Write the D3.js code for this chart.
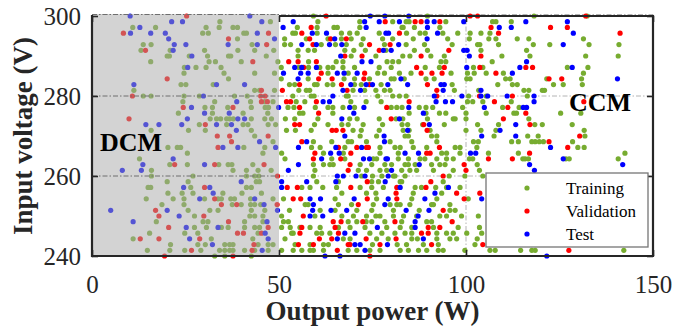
<!DOCTYPE html>
<html>
<head>
<meta charset="utf-8">
<script src="https://cdn.jsdelivr.net/npm/d3@7/dist/d3.min.js"></script>
<style>
  body { margin: 0; background: #fff; }
  text { font-family: "Liberation Serif", "Times New Roman", serif; }
</style>
</head>
<body>
<svg id="chart" width="673" height="330"></svg>
<script>
// Axis ticks
const xTicks = [0, 50, 100, 150];
const yTicks = [240, 260, 280, 300];
const gridX = [100];
const gridY = [260, 280];
const dcmLimit = 50;
const seriesNames = ["Training", "Validation", "Test"];
const seriesColors = ["#77ac30", "#ff0000", "#0000ff"];

// Each row: [input voltage (V), output power (W) of every sample at that voltage]
const trainingRows = [
  [300, 59.2, 89.7, 118.2, 132.4],
  [298.57, 34.2, 47.7, 60.4, 71.6, 80.4, 84.0, 84.8, 94.6, 107.1, 108.0, 112.1],
  [297.14, 10.9, 17.0, 30.5, 34.0, 37.7, 38.9, 54.9, 60.2, 64.7, 65.6, 71.6, 82.9, 83.2, 86.2, 93.0],
  [295.71, 29.6, 31.1, 40.6, 41.3, 53.7, 54.4, 60.2, 66.7, 68.9, 70.9, 76.8, 84.1, 87.7, 89.1, 93.8, 97.8, 101.1, 104.0, 106.4],
  [294.29, 38.9, 51.5, 57.3, 63.1, 66.7, 69.3, 72.5, 77.7, 80.4, 85.9, 95.1, 100.9, 106.1, 108.0, 113.7, 116.8, 131.4],
  [292.86, 13.7, 15.8, 42.8, 51.5, 53.1, 61.3, 65.1, 68.0, 72.0, 78.2, 84.0, 88.9, 96.3, 103.1, 103.7, 108.7, 118.0, 122.4, 132.9, 140.9],
  [291.43, 13.1, 20.9, 30.1, 39.0, 43.5, 48.6, 55.1, 57.8, 59.5, 67.6, 70.0, 73.1, 78.6, 86.2, 89.7, 104.0, 116.2],
  [290, 20.1, 20.7, 26.0, 30.9, 36.5, 37.1, 46.6, 55.1, 69.3, 75.9, 83.1, 85.0, 90.6, 94.2, 109.6, 117.1, 132.0, 140.7],
  [288.57, 15.7, 31.3, 33.0, 39.9, 49.7, 57.9, 65.3, 67.1, 78.9, 80.4, 82.0, 93.3, 94.6, 107.0],
  [287.14, 24.7, 27.8, 30.5, 34.5, 50.6, 55.3, 57.9, 60.9, 63.1, 64.4, 67.1, 70.2, 76.8, 80.0, 89.1, 92.9, 102.0, 104.5, 127.1, 132.6],
  [285.71, 24.6, 35.3, 43.5, 48.8, 63.1, 68.5, 76.4, 78.2, 82.2, 85.3, 96.0, 100.4, 102.2, 105.4, 110.0, 131.4],
  [284.29, 36.5, 50.6, 57.8, 67.4, 70.2, 74.2, 80.0, 80.8, 83.5, 89.3, 91.5, 100.2, 101.1, 110.6, 111.8, 121.6, 130.9],
  [282.86, 23.8, 25.1, 32.4, 52.8, 54.2, 59.5, 60.2, 62.9, 64.4, 70.2, 72.0, 77.3, 96.3, 108.5, 112.4, 113.7, 123.4, 126.0, 131.1],
  [281.43, 11.2, 43.5, 44.8, 48.8, 55.3, 57.3, 58.2, 69.8, 72.9, 75.9, 78.2, 79.7, 96.9, 103.4, 115.5, 116.8, 120.4, 121.0],
  [280, 13.7, 15.8, 24.6, 28.7, 38.1, 41.5, 53.7, 58.6, 59.4, 68.0, 68.5, 76.4, 80.4, 82.2, 84.0, 100.7, 105.4, 116.4],
  [278.57, 24.3, 32.8, 42.4, 46.2, 48.4, 54.6, 56.9, 69.2, 73.3, 77.3, 100.4, 101.8, 104.5, 112.1],
  [277.14, 30.2, 32.2, 36.3, 42.6, 46.3, 47.2, 52.4, 54.0, 59.7, 63.1, 64.4, 67.1, 70.2, 80.0, 81.5, 82.9, 87.5, 89.3, 91.1, 99.1, 109.8, 114.2],
  [275.71, 23.1, 32.2, 40.4, 47.0, 55.5, 56.4, 64.4, 84.8, 89.3, 92.9, 94.6, 100.0, 105.4, 112.8, 113.5, 125.3, 130.7],
  [274.29, 31.6, 33.3, 34.4, 36.0, 36.8, 37.8, 42.6, 46.2, 48.0, 51.7, 54.2, 60.4, 68.9, 70.9, 76.8, 81.3, 83.1, 89.7, 96.6, 97.1, 100.0, 116.8],
  [272.86, 28.7, 36.0, 40.4, 41.7, 47.1, 49.1, 59.5, 63.1, 66.8, 68.5, 72.5, 77.7, 82.9, 84.4, 88.4, 94.2, 103.1, 108.7, 118.4, 120.4, 128.4],
  [271.43, 15.8, 25.8, 30.3, 42.6, 52.0, 54.4, 58.6, 69.8, 72.0, 76.8, 83.2, 84.8, 90.4, 100.0, 104.0, 108.0, 131.6],
  [270, 43.5, 71.7, 76.1, 83.7, 84.6, 90.8, 92.2, 107.5, 116.5, 119.3, 131.8],
  [268.57, 48.4, 59.2, 64.1, 68.5, 69.4, 73.4, 79.7, 85.5, 92.2, 102.0, 103.3, 112.2, 114.0, 117.6, 118.5, 119.6, 120.7, 128.5],
  [267.14, 20.3, 22.8, 23.7, 40.6, 46.2, 58.7, 61.0, 67.6, 77.0, 81.0, 82.4, 85.9, 89.5, 97.1, 98.4, 102.9, 129.9, 131.6],
  [265.71, 25.5, 45.7, 50.7, 61.9, 67.2, 77.0, 81.9, 93.5, 94.8, 98.4, 106.0, 114.0, 142.5],
  [264.29, 12.7, 51.6, 64.1, 67.6, 75.2, 76.1, 81.9, 84.6, 87.7, 89.0, 92.2, 94.8, 96.6, 100.9, 101.8, 115.2, 115.8, 116.7, 126.7, 127.6, 140.7],
  [262.86, 20.8, 25.5, 33.9, 36.4, 37.4, 43.0, 59.2, 61.9, 63.6, 64.5, 71.7, 74.8, 78.3, 80.1, 83.7, 84.6, 86.4, 90.8, 93.0, 94.4, 103.0],
  [261.43, 15.9, 37.7, 41.3, 44.4, 47.9, 59.6, 71.2, 73.4, 77.0, 78.8, 82.8, 85.0, 86.8, 91.3, 96.6, 103.6],
  [260, 15.9, 27.0, 41.3, 43.5, 44.6, 59.2, 72.1, 75.0, 77.5, 80.6, 81.0, 83.7, 95.5, 99.7, 104.5],
  [258.57, 20.1, 25.7, 43.9, 44.8, 60.1, 65.9, 74.8, 76.6, 82.4, 82.8, 93.9],
  [257.14, 15.0, 15.7, 26.4, 41.3, 42.6, 56.1, 58.3, 61.7, 65.4, 71.7, 74.8, 77.9, 86.4, 88.1, 91.9, 94.8, 98.4],
  [255.71, 20.3, 24.1, 27.0, 35.0, 40.1, 45.3, 66.8, 73.4, 75.9, 85.9, 93.5],
  [254.29, 14.5, 21.7, 24.6, 30.1, 33.7, 34.6, 37.1, 38.1, 42.4, 48.4, 51.2, 65.0, 76.1, 85.5, 92.2, 100.6],
  [252.86, 18.7, 24.6, 37.5, 39.9, 42.4, 43.5, 45.1, 57.0, 57.8, 65.9, 69.4, 75.2, 79.7, 81.5, 82.4, 85.0, 90.8, 91.3, 95.7],
  [251.43, 25.7, 31.5, 33.7, 42.6, 46.2, 52.8, 61.0, 65.0, 70.8, 74.8, 80.6, 87.5, 95.7, 97.1],
  [250, 27.4, 42.2, 43.5, 45.7, 50.7, 59.6, 66.8, 69.9, 73.4, 75.9, 77.0, 80.6, 83.3, 86.8, 93.0, 94.8, 98.8, 103.3],
  [248.57, 17.2, 29.7, 31.0, 40.8, 45.7, 51.2, 52.5, 68.5, 70.8, 73.3, 74.8, 78.3, 82.8, 89.5, 90.8],
  [247.14, 27.4, 30.6, 34.6, 36.4, 40.8, 43.5, 44.8, 50.7, 53.0, 55.6, 58.3, 61.0, 65.9, 69.0, 73.0, 78.8, 82.4, 85.5, 91.3, 97.9, 103.6],
  [245.71, 15.4, 24.8, 28.3, 44.4, 53.4, 53.8, 60.1, 61.4, 63.6, 74.3, 77.5, 81.0, 83.7, 85.5, 92.2, 94.8, 96.6, 100.2, 104.2],
  [244.29, 11.0, 31.9, 43.0, 51.6, 67.2, 69.0, 76.1, 79.2, 85.5, 87.0, 92.2, 95.7, 97.5, 103.0],
  [242.86, 21.0, 28.3, 30.3, 35.5, 36.8, 37.7, 44.4, 47.1, 48.4, 54.3, 58.3, 61.9, 63.2, 75.0, 81.6, 84.1, 88.6, 92.6, 102.4],
  [241.43, 14.8, 20.8, 24.8, 29.1, 34.1, 35.5, 36.8, 37.7, 40.8, 43.5, 47.1, 50.7, 53.8, 56.1, 58.3, 59.2, 61.9, 68.5, 70.8, 74.3, 77.0, 82.4, 84.6, 87.3, 89.5, 92.6, 93.9, 99.7, 106.4, 107.8, 114.6, 117.6, 118.5, 142.2],
  [240, 32.8, 35.5, 42.6]
];

const validationRows = [
  [300, 25.3, 62.6, 101.1, 103.1, 132.0],
  [298.57, 78.4, 86.4, 88.0, 93.0],
  [297.14, 58.6, 106.7, 122.6, 127.1],
  [295.71, 8.4, 47.2, 56.1, 82.2, 108.7, 141.2],
  [294.29, 36.5, 58.2, 63.8, 68.0],
  [292.86, 46.7, 59.1, 74.2, 79.7],
  [291.43, 14.3, 76.8, 95.4],
  [290, 67.6, 72.2, 88.0, 104.0],
  [288.57, 43.0, 52.6, 55.1, 60.0],
  [287.14, 56.6, 86.8, 94.2, 103.7, 116.0, 117.8],
  [285.71, 61.3, 72.9, 88.0, 90.9, 93.6, 108.0],
  [284.29, 20.1, 60.6, 64.2, 72.7, 122.2, 125.6],
  [282.86, 55.5, 66.7, 74.2, 89.7],
  [281.43, 45.3, 50.9, 68.2, 92.2],
  [280, 10.8, 45.1, 46.3, 92.2, 103.6, 112.4],
  [278.57, 45.3, 46.9, 52.0, 53.1, 60.0, 84.8, 107.6, 131.5],
  [277.14, 24.4, 37.7, 55.5, 78.8, 111.2],
  [275.71, 60.6, 116.0],
  [274.29, 9.9, 80.0, 110.0],
  [272.86, 30.3, 54.2, 55.5, 88.7, 117.1],
  [271.43, 64.2, 65.3, 67.1, 89.6],
  [270, 33.5, 36.8, 47.1, 130.4],
  [268.57, 37.3, 56.1, 122.2],
  [267.14, 33.7, 65.9, 70.8, 73.4, 73.9, 92.9, 127.2],
  [265.71, 59.6, 69.2, 89.5, 90.4, 117.0],
  [264.29, 59.2, 66.5, 106.0, 112.4],
  [262.86, 22.1, 32.8, 46.0, 69.0, 99.5],
  [261.43, 68.5, 100.0],
  [260, 49.6, 93.9],
  [258.57, 73.6, 90.6],
  [257.14, 30.1, 52.2, 54.9, 69.2, 81.5, 89.3],
  [255.71, 81.3, 97.5, 103.7],
  [254.29, 32.8, 53.8, 55.8, 73.6, 81.5, 99.5],
  [252.86, 34.6, 38.7, 49.5, 71.2],
  [251.43, 17.0, 93.9],
  [250, 17.9, 29.9, 56.5],
  [248.57, 36.5, 64.5, 66.6, 72.4, 81.0, 96.3],
  [247.14, 20.5, 47.1, 56.1, 65.0, 89.9, 93.0],
  [245.71, 38.9, 40.5, 45.3, 55.6, 65.9, 88.1, 89.9],
  [244.29, 12.9, 17.9, 28.8, 60.8, 64.1, 73.3, 81.3],
  [242.86, 43.3, 55.2, 59.2, 68.5, 69.0, 77.0, 90.8, 104.5],
  [241.43, 26.6, 42.8, 65.6, 127.5],
  [240, 19.4, 37.7, 74.3]
];

const testRows = [
  [300, 10.2, 42.2, 74.4, 78.3, 84.7],
  [298.57, 21.3, 24.2, 45.4, 53.8, 72.9, 76.8, 82.2, 89.6, 91.5, 99.4, 116.0, 127.1],
  [297.14, 12.8, 51.1, 73.3, 89.7, 108.9, 112.1],
  [295.71, 10.3, 15.7, 19.6, 44.2, 58.9, 62.7, 78.6, 79.3, 92.4, 128.7],
  [294.29, 20.5, 48.8, 64.9, 89.6],
  [292.86, 22.0, 25.1, 36.4, 44.2, 56.1, 60.0, 63.5, 66.8, 82.0, 126.0],
  [291.43, 21.7, 77.9, 80.0, 99.4, 100.3],
  [290, 26.7, 66.5, 100.9],
  [288.57, 72.2, 74.6, 116.2],
  [287.14, 25.6, 54.2, 56.1, 60.0, 100.2, 114.4, 128.4],
  [285.71, 51.2, 55.8, 57.8, 65.6, 67.4, 70.9, 112.4],
  [284.29, 55.1, 82.6, 140.5],
  [282.86, 11.2, 33.3, 40.8, 69.2, 73.3, 75.0, 79.1, 84.4, 93.3, 94.2],
  [281.43, 67.1, 71.8, 93.9, 104.0],
  [280, 29.8, 64.4, 91.5, 98.9, 104.0, 105.8, 111.0, 118.2],
  [278.57, 38.7, 61.8, 63.5, 92.0, 94.5, 96.4, 118.2],
  [277.14, 26.6, 49.9, 68.9, 72.7, 84.7, 104.9, 115.3, 116.2],
  [275.71, 30.1, 36.7, 70.0, 88.6],
  [274.29, 25.5, 39.0, 40.8, 66.8, 82.2],
  [272.86, 14.4, 17.9, 24.0, 33.3, 37.3, 90.2, 113.3],
  [271.43, 38.6, 84.4, 109.1],
  [270, 67.6, 78.1, 104.2, 113.3],
  [268.57, 44.8, 57.4, 78.2],
  [267.14, 35.0, 39.0, 49.1, 55.2, 65.2, 72.1, 122.6],
  [265.71, 63.8, 66.1, 83.7, 87.3, 101.2, 102.6],
  [264.29, 21.7, 61.4, 72.6, 74.2, 78.6, 79.0, 126.0],
  [262.86, 13.6, 30.1, 55.2, 87.5, 117.0, 141.9],
  [261.43, 8.1, 13.2, 52.5, 80.1, 118.3],
  [260, 65.6, 67.2, 70.6, 73.0, 79.2],
  [258.57, 39.9, 50.7, 57.4, 65.2, 78.4],
  [257.14, 24.5, 31.5, 50.7, 82.4, 95.3],
  [255.71, 32.4, 91.7],
  [254.29, 28.8, 43.5, 58.3, 61.1, 70.1, 79.2, 89.0, 104.2],
  [252.86, 46.0, 59.2, 78.3],
  [251.43, 5.0, 20.1, 49.6, 59.0, 63.9, 68.1, 84.0, 90.1],
  [250, 23.3, 58.3, 61.7, 87.2],
  [248.57, 11.0, 46.8, 86.4],
  [247.14, 25.2, 33.7, 76.3, 86.4],
  [245.71, 46.3, 67.6, 70.3],
  [244.29, 26.1, 47.1, 65.6, 88.6],
  [242.86, 32.2, 70.3, 71.7, 79.0],
  [241.43, 45.5, 73.0],
  [240, 62.3, 66.3, 121.6]
];

const toPoints = rows => rows.flatMap(([v, ...ps]) => ps.map(p => ({ p, v })));
const series = [trainingRows, validationRows, testRows].map((rows, i) => ({
  name: seriesNames[i], color: seriesColors[i], points: toPoints(rows)
}));

const svg = d3.select("#chart");
const x = d3.scaleLinear().domain([0, 150]).range([92, 653]);
const y = d3.scaleLinear().domain([240, 300]).range([256, 16]);
const ink = "#262626";
const dash = "5,2,1.5,2";

// light dash-dot grid
const grid = svg.append("g").attr("fill", "none").attr("stroke", "#b4b4b4").attr("stroke-width", 1).attr("stroke-dasharray", dash);
grid.selectAll("line.h").data(gridY).join("line")
  .attr("x1", x(dcmLimit)).attr("x2", x(150)).attr("y1", d => y(d)).attr("y2", d => y(d));
grid.selectAll("line.v").data(gridX).join("line")
  .attr("x1", d => x(d)).attr("x2", d => x(d)).attr("y1", y(300)).attr("y2", y(240));
grid.append("line").attr("x1", x(0)).attr("x2", x(150)).attr("y1", y(300) - 1.5).attr("y2", y(300) - 1.5);

// scatter points
const marks = svg.append("g");
series.forEach(s => {
  marks.append("g").attr("fill", s.color)
    .selectAll("circle").data(s.points).join("circle")
    .attr("cx", d => x(d.p)).attr("cy", d => y(d.v)).attr("r", 2.6);
});

// DCM region shading
svg.append("rect")
  .attr("x", x(0)).attr("y", y(300) - 2)
  .attr("width", x(dcmLimit) - x(0)).attr("height", y(240) - y(300) + 2)
  .attr("fill", "rgb(168,168,168)").attr("fill-opacity", 0.5);

// grid inside the shaded region
const gridDark = svg.append("g").attr("fill", "none").attr("stroke", "#6e6e6e").attr("stroke-width", 1).attr("stroke-dasharray", dash);
gridDark.selectAll("line").data(gridY.concat([300])).join("line")
  .attr("x1", x(0)).attr("x2", x(dcmLimit))
  .attr("y1", d => y(d) - (d === 300 ? 1.5 : 0)).attr("y2", d => y(d) - (d === 300 ? 1.5 : 0));

// axes box
const box = svg.append("g").attr("stroke", ink).attr("stroke-width", 2.2).attr("fill", "none");
box.append("line").attr("x1", x(0)).attr("x2", x(0)).attr("y1", y(300) - 1).attr("y2", y(240) + 1.1);
box.append("line").attr("x1", x(0)).attr("x2", x(150) + 1.1).attr("y1", y(240)).attr("y2", y(240));
box.append("line").attr("x1", x(150)).attr("x2", x(150)).attr("y1", y(300) - 1.1).attr("y2", y(240));
box.append("line").attr("x1", x(dcmLimit)).attr("x2", x(150)).attr("y1", y(300)).attr("y2", y(300));

// axes with inward ticks
function styleAxis(g) {
  g.select(".domain").remove();
  g.selectAll(".tick line").attr("stroke", ink).attr("stroke-width", 1.6);
  g.selectAll(".tick text").attr("fill", ink).attr("font-size", 25)
    .attr("font-family", "Liberation Serif, serif");
}
svg.append("g").attr("transform", `translate(0,${y(240)})`)
  .call(d3.axisBottom(x).tickValues(xTicks).tickSize(-6).tickPadding(19).tickFormat(d3.format("d")))
  .call(styleAxis);
svg.append("g").attr("transform", `translate(${x(0)},0)`)
  .call(d3.axisLeft(y).tickValues(yTicks).tickSize(-6).tickPadding(11).tickFormat(d3.format("d")))
  .call(styleAxis);
svg.append("g").attr("transform", `translate(0,${y(300)})`)
  .call(d3.axisTop(x).tickValues(xTicks).tickSize(-6).tickFormat(""))
  .call(styleAxis);
svg.append("g").attr("transform", `translate(${x(150)},0)`)
  .call(d3.axisRight(y).tickValues(yTicks).tickSize(-6).tickFormat(""))
  .call(styleAxis);

// region labels
svg.append("text").attr("x", 100).attr("y", 151).attr("font-size", 26).attr("font-weight", "bold").attr("fill", "#000").text("DCM");
svg.append("text").attr("x", 569).attr("y", 111).attr("font-size", 26).attr("font-weight", "bold").attr("fill", "#000").text("CCM");

// axis titles
svg.append("text").attr("x", (x(0) + x(150)) / 2).attr("y", 320).attr("text-anchor", "middle")
  .attr("font-size", 27).attr("font-weight", "bold").attr("fill", ink).text("Output power (W)");
svg.append("text").attr("transform", `translate(32,${(y(240) + y(300)) / 2}) rotate(-90)`).attr("text-anchor", "middle")
  .attr("font-size", 27).attr("font-weight", "bold").attr("fill", ink).text("Input voltage (V)");

// legend
const lg = svg.append("g").attr("transform", "translate(486,173)");
lg.append("rect").attr("width", 162).attr("height", 74).attr("fill", "#fff").attr("stroke", "#767676").attr("stroke-width", 1.3);
series.forEach((s, i) => {
  lg.append("circle").attr("cx", 41).attr("cy", 15 + i * 23).attr("r", 2.6).attr("fill", s.color);
  lg.append("text").attr("x", 80).attr("y", 20.5 + i * 23).attr("font-size", 17).attr("fill", "#000").text(s.name);
});
</script>
</body>
</html>
